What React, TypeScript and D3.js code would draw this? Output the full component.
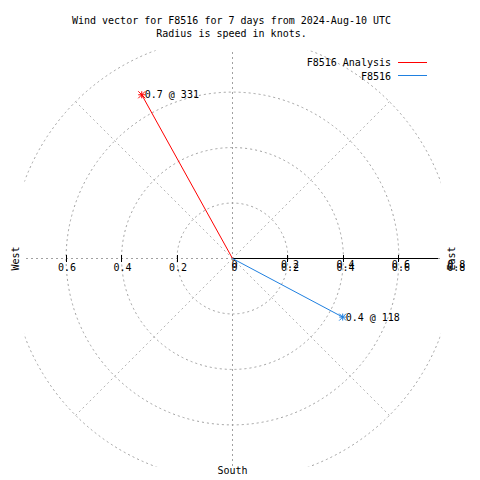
import React from "react";
import * as d3 from "d3";

const titleLines = ["Wind vector for F8516 for 7 days from 2024-Aug-10 UTC", "Radius is speed in knots."];
const seriesNames = ["F8516 Analysis", "F8516"];
const speeds = [0.675, 0.45];
const directions = [331, 118];
const pointLabels = ["0.7 @ 331", "0.4 @ 118"];
const seriesColors = ["#ff0000", "#1f80e0"];
const ringValues = [0.2, 0.4, 0.6, 0.8];
const spokeAngles = [0, 45, 90, 135, 180, 225, 270, 315];
const leftTicks = [-0.6, -0.4, -0.2];
const leftTickLabels = ["0.6", "0.4", "0.2"];
const rightTicks = [0, 0.2, 0.4, 0.6, 0.8];
const rightTickLabels = ["0", "0.2", "0.4", "0.6", "0.8"];
const compassLabels = ["West", "East", "South"];

const W = 480;
const H = 480;
const cx = 232.5;
const cy = 258.5;
const font = "'DejaVu Sans Mono', 'Liberation Mono', monospace";

export default function App() {
  const r = d3.scaleLinear().domain([0, 0.75]).range([0, 208]);
  const x = d3.scaleLinear().domain([-0.75, 0.75]).range([cx - 208, cx + 208]);
  const y = d3.scaleLinear().domain([-0.75, 0.75]).range([cy + 208, cy - 208]);
  const polar = (speed: number, deg: number): [number, number] => {
    const a = (deg * Math.PI) / 180;
    return [x(speed * Math.sin(a)), y(speed * Math.cos(a))];
  };
  const grid = "#a0a0a0";
  const dash = "2,3";
  const axisEnd = 0.74;

  return (
    <svg
      width={W}
      height={H}
      style={{ position: "absolute", left: 0, top: 0, background: "#fff" }}
      fontFamily={font}
      fontSize={10}
    >
      <defs>
        <clipPath id="plotClip">
          <rect x={x(-0.75)} y={y(0.75)} width={x(0.75) - x(-0.75)} height={y(-0.75) - y(0.75)} />
        </clipPath>
      </defs>
      <rect x={0} y={0} width={W} height={H} fill="#fff" />
      {/* title */}
      {titleLines.map((t, i) => (
        <text key={t} x={231.5} y={23.5 + i * 13} textAnchor="middle" fill="#000">
          {t}
        </text>
      ))}
      {/* grid */}
      <g clipPath="url(#plotClip)" fill="none" stroke={grid} strokeDasharray={dash} strokeWidth={1}>
        {ringValues.map((v) => (
          <circle key={v} cx={x(0)} cy={y(0)} r={r(v)} />
        ))}
        {spokeAngles.map((a) => {
          const [px, py] = polar(0.8, a);
          const straight = a % 90 === 0;
          return (
            <line
              key={a}
              x1={x(0)}
              y1={y(0)}
              x2={px}
              y2={py}
              stroke={straight ? grid : "#b4b4b4"}
              shapeRendering={straight ? "crispEdges" : "auto"}
            />
          );
        })}
      </g>
      {/* axis */}
      <g shapeRendering="crispEdges" stroke="#000" strokeWidth={1}>
        <line x1={x(0)} y1={y(0)} x2={x(axisEnd)} y2={y(0)} />
        {[...leftTicks, ...rightTicks.slice(1, 4)].map((t) => (
          <line key={"tk" + t} x1={x(t)} x2={x(t)} y1={y(0) - 3.5} y2={y(0) + 3.5} />
        ))}
      </g>
      {leftTicks.map((t, i) => (
        <text key={"lt" + t} x={x(t) + 1} y={y(0) + 12.5} textAnchor="middle" fill="#000">
          {leftTickLabels[i]}
        </text>
      ))}
      {rightTicks.map((t, i) => (
        <g key={"rt" + t}>
          <text x={x(t) + 2} y={y(0) + 12.5} textAnchor="middle" fill="#000">
            {rightTickLabels[i]}
          </text>
          <text x={x(t) + 2} y={y(0) + 9.5} textAnchor="middle" fill="#000">
            {rightTickLabels[i]}
          </text>
        </g>
      ))}
      {/* compass labels */}
      <text transform={`translate(18.5,${y(0)}) rotate(-90)`} textAnchor="middle" fill="#000">
        {compassLabels[0]}
      </text>
      <text transform={`translate(455,${y(0)}) rotate(-90)`} textAnchor="middle" fill="#000">
        {compassLabels[1]}
      </text>
      <text x={x(0)} y={474} textAnchor="middle" fill="#000">
        {compassLabels[2]}
      </text>
      {/* vectors */}
      {speeds.map((s, i) => {
        const [px, py] = polar(s, directions[i]);
        const k = 3.5;
        return (
          <g key={seriesNames[i]} stroke={seriesColors[i]} strokeWidth={1}>
            <line x1={x(0)} y1={y(0)} x2={px} y2={py} />
            <line x1={px - k} x2={px + k} y1={py} y2={py} />
            <line x1={px} x2={px} y1={py - k} y2={py + k} />
            <line x1={px - k} x2={px + k} y1={py - k} y2={py + k} />
            <line x1={px - k} x2={px + k} y1={py + k} y2={py - k} />
            <text x={px + 3} y={py + 3.5} stroke="none" fill="#000">
              {pointLabels[i]}
            </text>
          </g>
        );
      })}
      {/* legend */}
      {seriesNames.map((n, i) => (
        <g key={"lg" + n}>
          <text x={391} y={66 + i * 13.5} textAnchor="end" fill="#000">
            {n}
          </text>
          <line
            x1={398}
            x2={427}
            y1={62.5 + i * 13}
            y2={62.5 + i * 13}
            stroke={seriesColors[i]}
            strokeWidth={1}
            shapeRendering="crispEdges"
          />
        </g>
      ))}
    </svg>
  );
}
